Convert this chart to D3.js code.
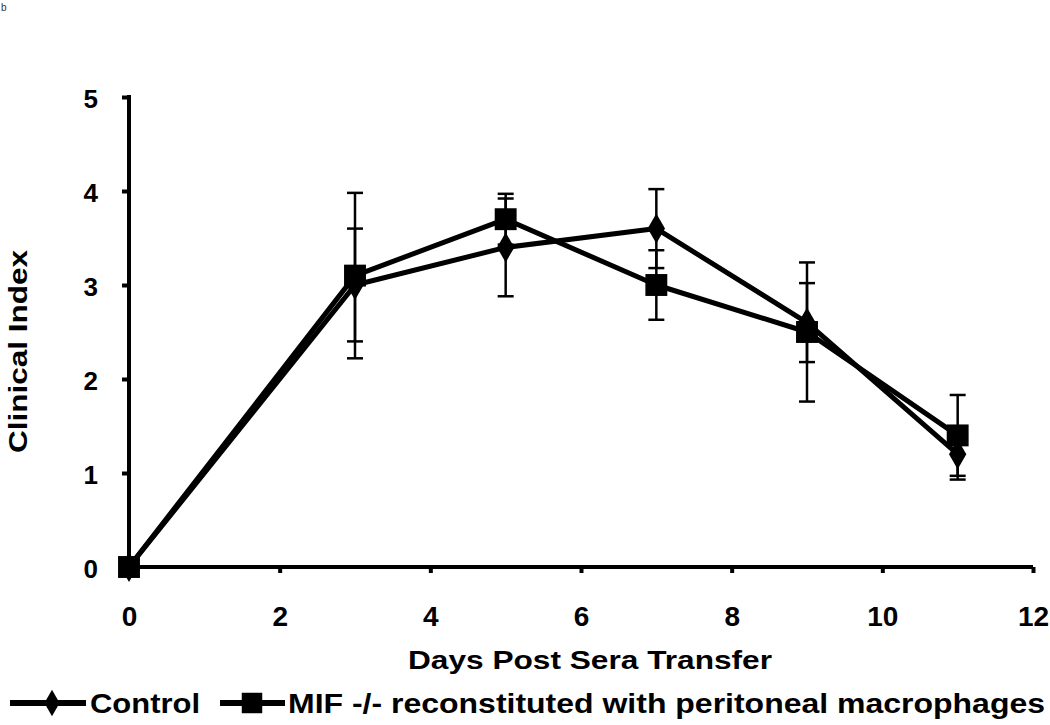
<!DOCTYPE html>
<html>
<head>
<meta charset="utf-8">
<script src="https://cdn.jsdelivr.net/npm/d3@7"></script>
<style>
  html, body { margin: 0; padding: 0; background: #fff; }
  svg { display: block; }
  text { font-family: "Liberation Sans", Arial, sans-serif; font-weight: bold; fill: #000; }
</style>
</head>
<body>
<svg id="chart" width="1050" height="725"></svg>
<script>
const days = [0, 3, 5, 7, 9, 11];
const controlValues = [0, 3.0, 3.4, 3.6, 2.6, 1.2];
const controlErrors = [0, 0.6, 0.52, 0.42, 0.42, 0.27];
const mifValues = [0, 3.1, 3.7, 3.0, 2.5, 1.4];
const mifErrors = [0, 0.88, 0.27, 0.37, 0.74, 0.43];
const xTicks = [0, 2, 4, 6, 8, 10, 12];
const yTicks = [0, 1, 2, 3, 4, 5];
const seriesNames = ["Control", "MIF -/- reconstituted with peritoneal macrophages"];

const svg = d3.select("#chart");
const x = d3.scaleLinear().domain([0, 12]).range([129, 1033]);
const y = d3.scaleLinear().domain([0, 5]).range([567, 97]);

// panel label
svg.append("text").attr("x", 1).attr("y", 11)
  .style("font-size", "10px").style("font-weight", "normal").style("fill", "#333").text("b");

// axes
const xAxis = svg.append("g").attr("transform", `translate(0,${y(0)})`)
  .call(d3.axisBottom(x).tickValues(xTicks).tickSize(6).tickPadding(33).tickFormat(d3.format("d")));
const yAxis = svg.append("g").attr("transform", `translate(${x(0)},0)`)
  .call(d3.axisLeft(y).tickValues(yTicks).tickSize(7).tickPadding(24).tickFormat(d3.format("d")));
[xAxis, yAxis].forEach(g => {
  g.select(".domain").attr("stroke", "#000").attr("stroke-width", 4)
    .attr("d", g === xAxis ? `M${x(0)},0H${x(12)}` : `M0,${y(5)-2}V${y(0)}`);
  g.selectAll(".tick line").attr("stroke", "#000").attr("stroke-width", 4);
  g.selectAll(".tick text").style("font-family", "Liberation Sans, Arial, sans-serif").style("font-weight", "bold");
});
xAxis.selectAll(".tick text").style("font-size", "28px");
yAxis.selectAll(".tick text").style("font-size", "26px").attr("dy", "0.4em");

// axis titles
svg.append("text").attr("x", 408).attr("y", 669)
  .style("font-size", "25px").attr("textLength", 364).attr("lengthAdjust", "spacingAndGlyphs").text("Days Post Sera Transfer");
svg.append("text").attr("transform", `translate(27,453) rotate(-90)`)
  .style("font-size", "25px").attr("textLength", 203).attr("lengthAdjust", "spacingAndGlyphs").text("Clinical Index");

const plot = svg.append("g");
const line = d3.line().x((d, i) => x(days[i])).y(d => y(d));

const diamond = d3.symbol().type(d3.symbolDiamond).size(260);
const square = d3.symbol().type(d3.symbolSquare).size(480);

function drawErrors(vals, errs) {
  const g = plot.append("g").attr("stroke", "#000").attr("stroke-width", 2.5);
  days.forEach((d, i) => {
    if (!errs[i]) return;
    const cx = x(d);
    g.append("line").attr("x1", cx).attr("x2", cx).attr("y1", y(vals[i] - errs[i])).attr("y2", y(vals[i] + errs[i]));
    [vals[i] - errs[i], vals[i] + errs[i]].forEach(v => {
      g.append("line").attr("x1", cx - 8).attr("x2", cx + 8).attr("y1", y(v)).attr("y2", y(v));
    });
  });
}
function drawSeries(vals, sym) {
  plot.append("path").datum(vals).attr("d", line).attr("fill", "none").attr("stroke", "#000").attr("stroke-width", 5).attr("stroke-linejoin", "round");
  plot.append("g").selectAll("path").data(vals).join("path")
    .attr("transform", (d, i) => `translate(${x(days[i])},${y(d)})`)
    .attr("d", sym).attr("fill", "#000");
}
drawErrors(controlValues, controlErrors);
drawErrors(mifValues, mifErrors);
drawSeries(controlValues, diamond);
drawSeries(mifValues, square);

// legend
const leg = svg.append("g");
const ly = 703;
leg.append("line").attr("x1", 10).attr("x2", 86).attr("y1", ly).attr("y2", ly).attr("stroke", "#000").attr("stroke-width", 6);
leg.append("path").attr("transform", `translate(52,${ly})`).attr("d", d3.symbol().type(d3.symbolDiamond).size(200)).attr("fill", "#000");
leg.append("text").attr("x", 90).attr("y", ly + 10).style("font-size", "27px").attr("textLength", 110).attr("lengthAdjust", "spacingAndGlyphs").text(seriesNames[0]);
leg.append("line").attr("x1", 220).attr("x2", 285).attr("y1", ly).attr("y2", ly).attr("stroke", "#000").attr("stroke-width", 6);
leg.append("path").attr("transform", `translate(252,${ly})`).attr("d", d3.symbol().type(d3.symbolSquare).size(420)).attr("fill", "#000");
leg.append("text").attr("x", 288).attr("y", ly + 10).style("font-size", "27px").attr("textLength", 757).attr("lengthAdjust", "spacingAndGlyphs").text(seriesNames[1]);
</script>
</body>
</html>
